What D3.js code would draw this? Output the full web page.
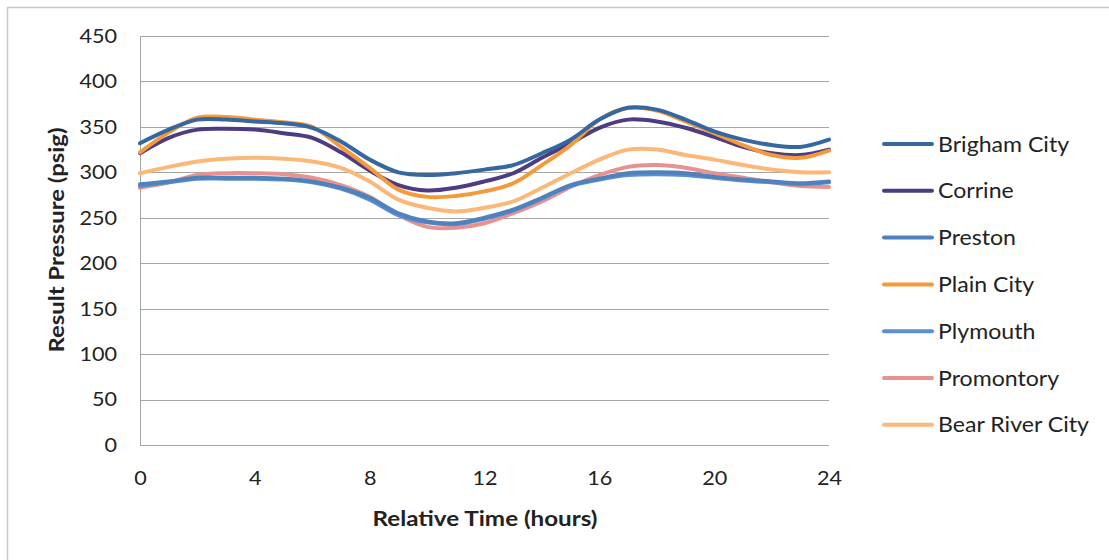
<!DOCTYPE html>
<html><head><meta charset="utf-8">
<script src="https://cdn.jsdelivr.net/npm/d3@7"></script>
<style>
html,body{margin:0;padding:0;background:#fff;}
svg{display:block;}
text{font-family:Lato,"Open Sans",sans-serif;fill:#222;}
</style></head>
<body><svg id="c" width="1109" height="560"></svg>
<script>
const hours = [0,1,2,3,4,5,6,7,8,9,10,11,12,13,14,15,16,17,18,19,20,21,22,23,24];
const seriesNames = ["Brigham City","Corrine","Preston","Plain City","Plymouth","Promontory","Bear River City"];
const brighamCity   = [332,347,358,358,356,354,349,334,314,300,297,299,303,308,321,336,358,371,369,358,345,336,330,328,336];
const corrine       = [321,338,347,348,347,343,338,322,302,286,280,283,290,299,316,332,349,358,356,349,339,328,321,319,325];
const preston       = [287,290,294,294,294,293,290,283,272,255,246,244,250,259,272,286,293,299,300,299,295,292,290,288,290];
const plainCity     = [322,344,360,361,358,355,350,328,305,281,273,274,279,288,308,330,358,371,368,356,343,330,319,316,324];
const plymouth      = [285,289,293,293,293,292,289,282,270,253,245,243,249,258,271,285,292,297,298,297,294,291,289,287,289];
const promontory    = [283,289,297,299,299,298,294,286,273,253,240,239,244,255,268,284,297,306,308,305,299,294,289,285,284];
const bearRiverCity = [299,306,312,315,316,315,312,305,290,270,261,257,261,268,283,299,314,325,325,319,314,308,303,300,300];
const yTicks = [0,50,100,150,200,250,300,350,400,450];
const xTicks = [0,4,8,12,16,20,24];
const colors = ["#3567a0","#4d3d80","#4f81bd","#f59a3c","#5a8fd0","#e8928f","#fbb878"];
const data = [brighamCity,corrine,preston,plainCity,plymouth,promontory,bearRiverCity];

function stretch(sel, f){
  sel.each(function(){
    const w = this.getComputedTextLength();
    d3.select(this).attr("textLength", w*f).attr("lengthAdjust","spacingAndGlyphs");
  });
}

const svg = d3.select("#c");
// outer frame
svg.append("rect").attr("x",7.5).attr("y",7.5).attr("width",1110).attr("height",560)
  .attr("fill","none").attr("stroke","#c8c8c8").attr("stroke-width",1.5);

const x = d3.scaleLinear().domain([0,24]).range([140,829]);
const y = d3.scaleLinear().domain([0,450]).range([445,36]);

// gridlines
svg.append("g").selectAll("line").data(yTicks).join("line")
  .attr("x1",140).attr("x2",829).attr("y1",d=>Math.round(y(d))+0.5).attr("y2",d=>Math.round(y(d))+0.5)
  .attr("stroke","#a6a6a6").attr("stroke-width",1);
// left axis line
svg.append("line").attr("x1",140.5).attr("x2",140.5).attr("y1",36).attr("y2",446)
  .attr("stroke","#a6a6a6").attr("stroke-width",1);

// y tick labels
const yAxis = d3.axisLeft(y).tickValues(yTicks).tickSize(0).tickPadding(23);
const gy = svg.append("g").attr("transform","translate(140,0)").call(yAxis);
gy.select(".domain").remove();
gy.selectAll("text").style("font-family","Lato,sans-serif").style("font-size","20px").attr("fill","#222");
stretch(gy.selectAll("text"), 1.08);

// x tick labels
const xAxis = d3.axisBottom(x).tickValues(xTicks).tickSize(0).tickPadding(26);
const gx = svg.append("g").attr("transform","translate(0,445)").call(xAxis);
gx.select(".domain").remove();
gx.selectAll("text").style("font-family","Lato,sans-serif").style("font-size","20px").attr("fill","#222");
stretch(gx.selectAll("text"), 1.08);

// axis titles
const xt = svg.append("text").attr("x",485).attr("y",526).attr("text-anchor","middle")
  .style("font-size","20px").style("font-weight","bold").text("Relative Time (hours)");
stretch(xt, 225/xt.node().getComputedTextLength());
const yt = svg.append("text").attr("transform","translate(64,240) rotate(-90)").attr("text-anchor","middle")
  .style("font-size","20px").style("font-weight","bold").text("Result Pressure (psig)");
stretch(yt, 225/yt.node().getComputedTextLength());

// lines
const line = d3.line().x((d,i)=>x(hours[i])).y(d=>y(d)).curve(d3.curveCatmullRom.alpha(0.5));
const drawOrder = [5,4,2,6,1,3,0];
drawOrder.forEach(k=>{
  svg.append("path").attr("d",line(data[k])).attr("fill","none")
    .attr("stroke",colors[k]).attr("stroke-width",4).attr("stroke-linejoin","round").attr("stroke-linecap","round");
});

// legend
const lg = svg.append("g");
seriesNames.forEach((n,i)=>{
  const yy = 144 + i*46.8;
  lg.append("line").attr("x1",884).attr("x2",932).attr("y1",yy).attr("y2",yy)
    .attr("stroke",colors[i]).attr("stroke-width",4).attr("stroke-linecap","round");
  const t = lg.append("text").attr("x",938).attr("y",yy+7.5).style("font-size","21px").text(n);
  stretch(t, 1.1);
});
</script></body></html>
